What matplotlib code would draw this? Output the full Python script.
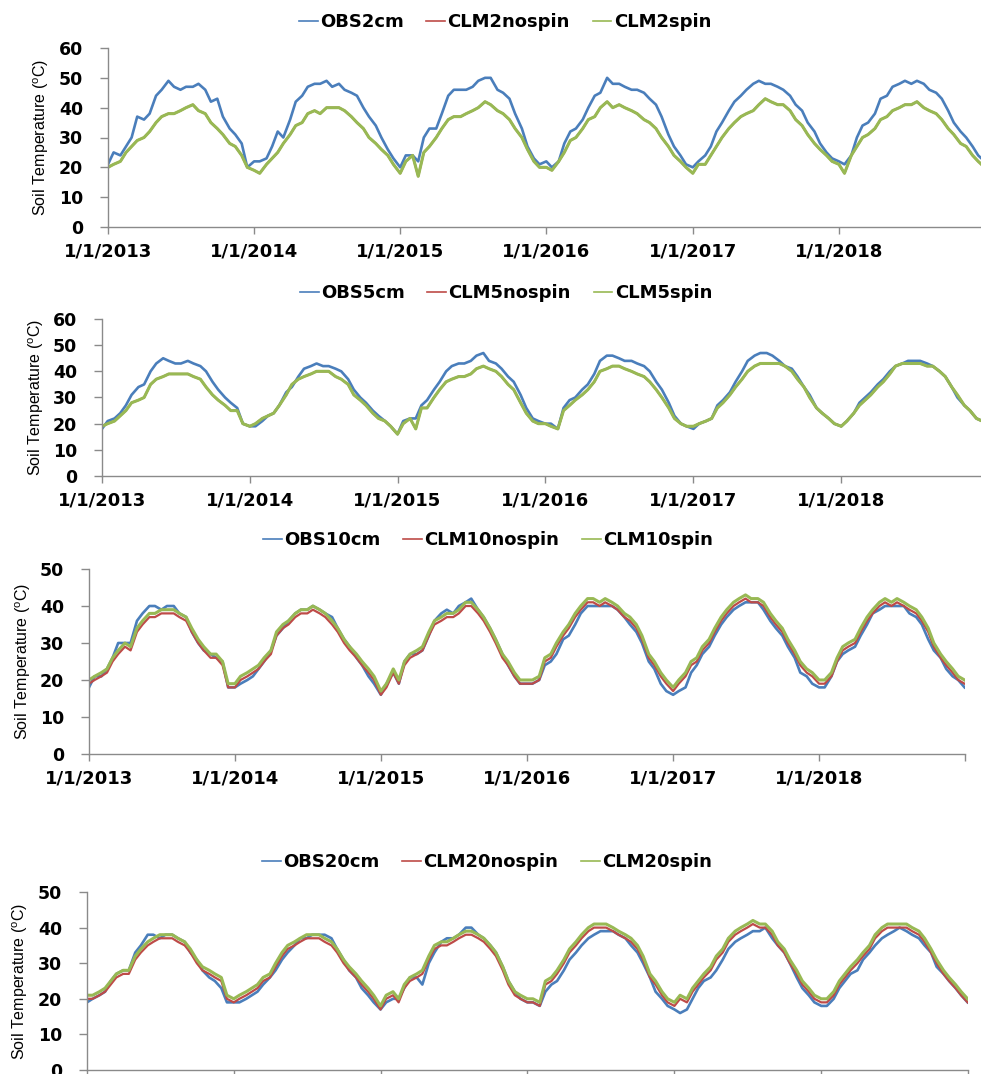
import matplotlib
matplotlib.use("Agg")
import matplotlib.pyplot as plt
import pandas as pd

# semi-monthly readings (1st and 15th of each month), 2013-2018, plus 31 Dec 2018
obs2 = [21,25,24,27,30,37,36,38,44,46,49,47,46,47,47,48,46,42,43,37,33,31,28,20,
        22,22,23,27,32,30,36,42,44,47,48,48,49,47,48,46,45,44,40,37,34,30,26,23,
        20,24,24,22,30,33,33,38,44,46,46,46,47,49,50,50,46,45,43,38,33,27,23,21,
        22,20,22,28,32,33,36,40,44,45,50,48,48,47,46,46,45,43,41,37,31,27,24,21,
        20,22,24,27,32,35,39,42,44,46,48,49,48,48,47,46,44,41,39,35,32,28,25,23,
        22,21,24,30,34,35,38,43,44,47,48,49,48,49,48,46,45,43,39,35,32,30,27,24, 22]
clm2nospin = [20,21,22,25,27,29,30,32,35,37,38,38,39,40,41,39,38,35,33,31,28,27,24,20,
              19,18,21,23,25,28,31,34,35,38,39,38,40,40,40,39,37,35,33,30,28,26,24,21,
              18,22,24,17,25,27,30,33,36,37,37,38,39,40,42,41,39,38,36,33,30,26,22,20,
              20,19,22,25,29,30,33,36,37,40,42,40,41,40,39,38,36,35,33,30,27,24,22,20,
              18,21,21,24,27,30,33,35,37,38,39,41,43,42,41,41,39,36,34,31,28,26,24,22,
              21,18,24,27,30,31,33,36,37,39,40,41,41,42,40,39,38,36,33,31,28,27,24,22, 20]
clm2spin = [20,21,22,25,27,29,30,32,35,37,38,38,39,40,41,39,38,35,33,31,28,27,24,20,
            19,18,21,23,25,28,31,34,35,38,39,38,40,40,40,39,37,35,33,30,28,26,24,21,
            18,22,24,17,25,27,30,33,36,37,37,38,39,40,42,41,39,38,36,33,30,26,22,20,
            20,19,22,25,29,30,33,36,37,40,42,40,41,40,39,38,36,35,33,30,27,24,22,20,
            18,21,21,24,27,30,33,35,37,38,39,41,43,42,41,41,39,36,34,31,28,26,24,22,
            21,18,24,27,30,31,33,36,37,39,40,41,41,42,40,39,38,36,33,31,28,27,24,22, 20]

obs5 = [18,21,22,24,27,31,34,35,40,43,45,44,43,43,44,43,42,40,36,33,30,28,26,20,
        19,19,21,23,24,27,32,34,38,41,42,43,42,42,41,40,37,33,30,28,25,23,21,19,
        16,21,22,22,27,29,33,36,40,42,43,43,44,46,47,44,43,41,38,36,31,26,22,21,
        20,20,18,26,29,30,33,35,39,44,46,46,45,44,44,43,42,40,36,33,28,23,20,19,
        18,20,21,22,27,29,32,36,40,44,46,47,47,46,44,42,41,38,34,31,26,24,22,20,
        19,21,24,28,30,32,35,37,40,42,43,44,44,44,43,42,40,38,34,30,27,25,22,21, 20]
clm5nospin = [19,20,21,23,25,28,29,30,35,37,38,39,39,39,39,38,37,34,31,29,27,25,25,20,
              19,20,22,23,24,27,31,35,37,38,39,40,40,40,38,37,35,31,29,27,24,22,21,19,
              16,20,22,18,26,26,30,33,36,37,38,38,39,41,42,41,40,38,35,33,28,24,21,20,
              20,19,18,25,27,29,31,33,36,40,41,42,42,41,40,39,38,36,33,30,26,22,20,19,
              19,20,21,22,26,28,31,34,37,40,42,43,43,43,43,42,40,37,34,30,26,24,22,20,
              19,21,24,27,29,31,34,36,39,42,43,43,43,43,42,42,40,38,34,31,27,25,22,21, 20]
clm5spin = [19,20,21,23,25,28,29,30,35,37,38,39,39,39,39,38,37,34,31,29,27,25,25,20,
            19,20,22,23,24,27,31,35,37,38,39,40,40,40,38,37,35,31,29,27,24,22,21,19,
            16,20,22,18,26,26,30,33,36,37,38,38,39,41,42,41,40,38,35,33,28,24,21,20,
            20,19,18,25,27,29,31,33,36,40,41,42,42,41,40,39,38,36,33,30,26,22,20,19,
            19,20,21,22,26,28,31,34,37,40,42,43,43,43,43,42,40,37,34,30,26,24,22,20,
            19,21,24,27,29,31,34,36,39,42,43,43,43,43,42,42,40,38,34,31,27,25,22,21, 20]

obs10 = [18,21,21,23,26,30,30,30,36,38,40,40,39,40,40,38,37,33,30,28,27,26,25,18,
         18,19,20,21,23,25,28,32,34,36,38,39,39,40,39,38,37,34,31,29,26,24,21,19,
         16,19,22,19,25,27,27,28,32,36,38,39,38,40,41,42,39,37,34,31,27,24,21,19,
         19,19,20,24,25,27,31,32,35,38,40,40,40,40,40,39,37,35,33,30,25,23,19,17,
         16,17,18,22,24,27,29,32,35,37,39,40,41,41,41,39,36,34,32,29,26,22,21,19,
         18,18,21,25,27,28,29,32,35,38,39,40,40,40,40,38,37,35,31,28,26,23,21,20, 18]
clm10nospin = [19,20,21,22,25,27,29,28,33,35,37,37,38,38,38,37,36,33,30,28,26,26,24,18,
               18,20,21,22,23,25,27,32,34,35,37,38,38,39,38,37,35,33,30,28,26,24,22,20,
               16,18,22,19,24,26,27,28,32,35,36,37,37,38,40,40,38,36,33,30,26,24,21,19,
               19,19,20,25,26,29,32,34,37,39,41,41,40,41,40,39,37,36,34,31,26,24,21,19,
               17,19,21,24,25,28,30,33,36,38,40,41,42,41,41,40,37,35,33,30,27,24,22,21,
               19,19,21,25,28,29,30,33,36,38,40,41,40,41,40,39,38,36,33,29,26,24,22,20, 19]
clm10spin = [20,21,22,23,26,28,30,29,34,36,38,38,39,39,39,38,37,34,31,29,27,27,25,19,
             19,21,22,23,24,26,28,33,35,36,38,39,39,40,39,38,36,34,31,29,27,25,23,21,
             17,19,23,20,25,27,28,29,33,36,37,38,38,39,41,41,39,37,34,31,27,25,22,20,
             20,20,21,26,27,30,33,35,38,40,42,42,41,42,41,40,38,37,35,32,27,25,22,20,
             18,20,22,25,26,29,31,34,37,39,41,42,43,42,42,41,38,36,34,31,28,25,23,22,
             20,20,22,26,29,30,31,34,37,39,41,42,41,42,41,40,39,37,34,30,27,25,23,21, 20]

obs20 = [19,20,21,22,25,27,28,28,33,35,38,38,37,38,38,37,36,33,31,28,26,25,23,19,
         19,19,20,21,22,24,26,28,31,33,35,37,37,38,38,38,37,34,31,28,26,23,21,19,
         17,19,20,20,23,26,26,24,30,33,36,37,37,38,40,40,38,37,35,33,29,25,22,20,
         19,19,18,22,24,25,28,31,33,35,37,38,39,39,39,38,37,35,33,30,26,22,20,18,
         17,16,17,20,23,25,26,28,31,34,36,37,38,39,39,40,37,35,33,30,26,23,21,19,
         18,18,20,23,25,27,28,31,33,35,37,38,39,40,39,38,37,35,33,29,27,25,23,21, 19]
clm20nospin = [20,20,21,22,24,26,27,27,31,33,35,36,37,37,37,36,35,33,30,28,27,26,25,20,
               19,20,21,22,23,25,26,29,32,34,35,36,37,37,37,36,35,33,30,28,26,24,22,20,
               17,20,21,19,23,25,26,27,31,34,35,35,36,37,38,38,37,36,34,32,28,24,21,20,
               19,19,18,24,25,27,30,33,35,37,39,40,40,40,39,38,37,36,34,31,26,24,21,19,
               18,20,19,22,24,26,28,31,33,36,38,39,40,41,40,40,38,35,33,30,27,24,22,20,
               19,19,21,24,26,28,30,32,34,37,39,40,40,40,40,39,38,36,33,30,27,25,23,21, 19]
clm20spin = [21,21,22,23,25,27,28,28,32,34,36,37,38,38,38,37,36,34,31,29,28,27,26,21,
             20,21,22,23,24,26,27,30,33,35,36,37,38,38,38,37,36,34,31,29,27,25,23,21,
             18,21,22,20,24,26,27,28,32,35,36,36,37,38,39,39,38,37,35,33,29,25,22,21,
             20,20,19,25,26,28,31,34,36,38,40,41,41,41,40,39,38,37,35,32,27,25,22,20,
             19,21,20,23,25,27,29,32,34,37,39,40,41,42,41,41,39,36,34,31,28,25,23,21,
             20,20,22,25,27,29,31,33,35,38,40,41,41,41,41,40,39,37,34,31,28,26,24,22, 20]

dates = list(pd.date_range("2013-01-01", "2018-12-15", freq="SMS")) + [pd.Timestamp("2018-12-31")]
years = [2013, 2014, 2015, 2016, 2017, 2018, 2019]
year_labels = ["1/1/2013", "1/1/2014", "1/1/2015", "1/1/2016", "1/1/2017", "1/1/2018", ""]

BLUE = "#4a7ebb"
RED = "#be4b48"
GREEN = "#98b954"
AXC = "#8a8a8a"
W, H = 981, 1074

panels = [
    # depth, series, ymax, (left, right, top, bottom) px, legend centre, ylabel x, x labels shown
    ("2cm", "2", obs2, clm2nospin, clm2spin, 60, (108, 985, 48, 227), (505, 22), 41, True),
    ("5cm", "5", obs5, clm5nospin, clm5spin, 60, (102, 989, 319, 476), (506, 293), 36, True),
    ("10cm", "10", obs10, clm10nospin, clm10spin, 50, (89, 965, 569, 754), (488, 540), 23, True),
    # bottom panel: its date labels fall below the picture edge, as in the original
    ("20cm", "20", obs20, clm20nospin, clm20spin, 50, (87, 968, 892, 1070), (487, 862), 20, False),
]

fig = plt.figure(figsize=(W / 100, H / 100), dpi=100)

for depth, d, obs, nospin, spin, ymax, (l, r, t, b), (lx, ly), yl_x, showx in panels:
    ax = fig.add_axes([l / W, 1 - b / H, (r - l) / W, (b - t) / H])
    ax.plot(dates, obs, color=BLUE, lw=1.9)
    ax.plot(dates, nospin, color=RED, lw=1.6)
    ax.plot(dates, spin, color=GREEN, lw=2.2)

    ax.set_xlim(pd.Timestamp("2013-01-01"), pd.Timestamp("2019-01-01"))
    ax.set_ylim(0, ymax)
    ax.set_yticks(range(0, ymax + 1, 10))
    ax.set_xticks([pd.Timestamp(str(y) + "-01-01") for y in years])
    ax.set_xticklabels(year_labels if showx else [""] * len(years))
    for s in ["top", "right"]:
        ax.spines[s].set_visible(False)
    for s in ["left", "bottom"]:
        ax.spines[s].set_color(AXC)
        ax.spines[s].set_linewidth(1.0)
    ax.tick_params(axis="y", direction="out", length=6, width=1, color=AXC, pad=12,
                   labelsize=12.5)
    ax.tick_params(axis="x", direction="out", length=5, width=1, color=AXC, pad=6,
                   labelsize=13)
    for lab in ax.get_xticklabels() + ax.get_yticklabels():
        lab.set_fontweight("bold")

    fig.text(yl_x / W, 1 - ((t + b) / 2) / H, r"Soil Temperature ($\mathregular{^o}$C)",
             rotation=90, ha="center", va="center", fontsize=11.5,
             family=["Liberation Sans", "DejaVu Sans"])

    # legend uses thin sample lines like the original
    h1, = ax.plot([], [], color=BLUE, lw=1.2, label="OBS" + depth)
    h2, = ax.plot([], [], color=RED, lw=1.2, label="CLM" + d + "nospin")
    h3, = ax.plot([], [], color=GREEN, lw=1.2, label="CLM" + d + "spin")
    fig.legend(handles=[h1, h2, h3], loc="center", bbox_to_anchor=(lx / W, 1 - ly / H),
               ncol=3, frameon=False, handlelength=1.05, handletextpad=0.12,
               columnspacing=1.25, prop={"weight": "bold", "size": 13})

fig.savefig("out.png", dpi=100)
